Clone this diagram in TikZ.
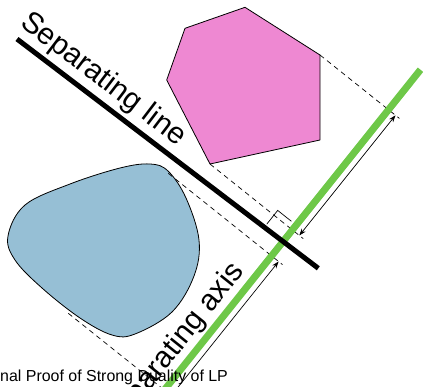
\documentclass[tikz,border=0pt]{standalone}
\usepackage{fontspec}
\setmainfont{Liberation Sans}
\usetikzlibrary{arrows.meta}
\definecolor{hexpink}{RGB}{238,136,210}
\definecolor{blobblue}{RGB}{150,191,213}
\definecolor{axisgreen}{RGB}{110,200,72}
\tikzset{
  shapeline/.style={draw=black, line width=0.8bp, line join=round},
  projline/.style={draw=black, line width=0.7bp, dash pattern=on 5bp off 4bp},
  measure/.style={draw=black, line width=0.7bp, {Stealth[length=7bp,width=5bp]}-{Stealth[length=7bp,width=5bp]}},
  bigtext/.style={inner sep=0pt, font=\fontsize{30}{36}\selectfont},
  captext/.style={inner sep=0pt, font=\fontsize{16}{19}\selectfont}
}
\begin{document}
\begin{tikzpicture}[x=1bp, y=-1bp]
\useasboundingbox (0,0) rectangle (423,387);
\clip (0,0) rectangle (423,387);
% key points
\coordinate (O) at (283.1,241.5);
\coordinate (Gtop) at (420.5,69.7);
\coordinate (Gbot) at (158.2,397.7);
\coordinate (Lstart) at (17,39);
\coordinate (Lend) at (318.3,268.3);
% hexagon vertices
\coordinate (V1) at (245,7.3);
\coordinate (V2) at (320,55);
\coordinate (V3) at (320,140);
\coordinate (V4) at (210,164);
\coordinate (V5) at (166.7,80);
\coordinate (V6) at (185,28.3);
% blob tangent points
\coordinate (B1) at (168.3,173.3);
\coordinate (B2) at (68.3,313.3);
% projection ends
\coordinate (E1) at (399.4,118.4);
\coordinate (E2) at (303.2,238.6);
\coordinate (E3) at (282.5,264.6);
\coordinate (E4) at (175.2,398.7);
% arrow ends
\coordinate (A1a) at (299.3,235.5);
\coordinate (A1b) at (395.5,115.3);
\coordinate (A2a) at (171.3,395.6);
\coordinate (A2b) at (278.6,261.5);
% right angle
\coordinate (R1) at (266.8,224.1);
\coordinate (R2) at (277.7,210.4);
\coordinate (R3) at (291.4,221.3);

% shapes
\path[shapeline, fill=hexpink] (V1) -- (V2) -- (V3) -- (V4) -- (V5) -- (V6) -- cycle;
\path[shapeline, fill=blobblue] plot[smooth cycle, tension=0.6] coordinates {
  (8,236) (25,205) (70,184) (120,168) (150,164) (168,171) (186,198)
  (199,240) (194,276) (172,312) (135,334) (112,335) (80,318) (42,288) (15,260)};

% projections
\draw[projline] (V2) -- (E1);
\draw[projline] (V4) -- (E2);
\draw[projline] (B1) -- (E3);
\draw[projline] (B2) -- (E4);

% axis and line
\draw[axisgreen, line width=7bp] (Gbot) -- (Gtop);
\draw[black, line width=5bp] (Lstart) -- (Lend);

% right angle mark
\draw[black, line width=0.7bp] (R1) -- (R2) -- (R3);

% measures
\draw[measure] (A1a) -- (A1b);
\draw[measure] (A2a) -- (A2b);

% labels
\node[bigtext, anchor=base, rotate=-37.3] (linelabel) at (98.4,85.8) {Separating line};
\node[captext, anchor=base west] (caption) at (0,381.5) {nal Proof of Strong Duality of LP};
\node[bigtext, anchor=base, rotate=51.35] (axislabel) at (180.4,352.3) {Separating axis};
\end{tikzpicture}
\end{document}
